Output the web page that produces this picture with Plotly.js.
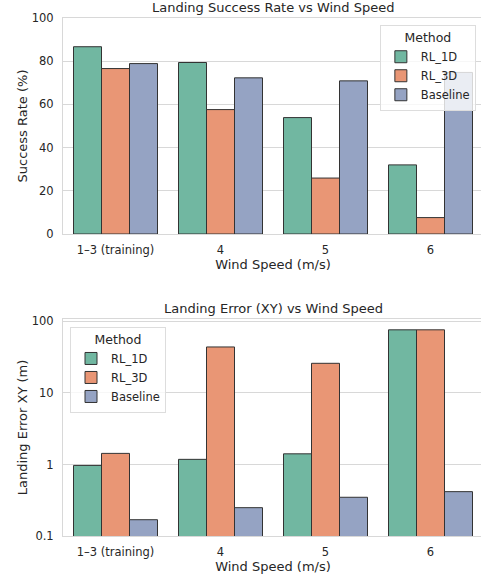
<!DOCTYPE html>
<html>
<head>
<meta charset="utf-8">
<script src="https://cdn.plot.ly/plotly-3.0.1.min.js"></script>
<style>
  html, body { margin: 0; padding: 0; overflow: hidden; background: #fff; }
  #chart { width: 483px; height: 579px; }
</style>
</head>
<body>
<div id="chart"></div>
<script>
// Wind-speed conditions (x categories)
const windSpeeds = ['1\u20133 (training)', '4', '5', '6'];

// Landing success rate (%) per method
const successRL1D = [86.7, 79.4, 53.9, 32.0];
const successRL3D = [76.6, 57.6, 25.9, 7.6];
const successBaseline = [78.9, 72.3, 70.9, 74.8];

// Landing error in the XY plane (m) per method
const errorRL1D = [0.97, 1.18, 1.41, 76.4];
const errorRL3D = [1.43, 44.0, 26.0, 76.4];
const errorBaseline = [0.169, 0.249, 0.348, 0.417];

const methods = ['RL_1D', 'RL_3D', 'Baseline'];
const methodColors = ['#71b7a1', '#e99675', '#95a3c3'];

// Log-axis tick labels
const errorTickVals = [0.1, 1, 10, 100];
const errorTickText = ['0.1', '1', '10', '100'];

const textColor = '#262626';
const gridColor = '#d8d8d8';
const fontFamily = 'DejaVu Sans, sans-serif';

function barTrace(name, values, idx, yaxis, legendName) {
  return {
    type: 'bar',
    name: name,
    x: windSpeeds,
    y: values,
    xaxis: yaxis === 'y' ? 'x' : 'x2',
    yaxis: yaxis,
    legend: legendName,
    marker: { color: methodColors[idx], line: { color: '#333333', width: 1 } },
    hoverinfo: 'x+y+name'
  };
}

const successSeries = [successRL1D, successRL3D, successBaseline];
const errorSeries = [errorRL1D, errorRL3D, errorBaseline];

const traces = [];
methods.forEach((m, i) => traces.push(barTrace(m, successSeries[i], i, 'y', 'legend')));
methods.forEach((m, i) => traces.push(barTrace(m, errorSeries[i], i, 'y2', 'legend2')));

const axisCommon = {
  showline: true, mirror: true, linecolor: gridColor, linewidth: 1,
  tickfont: { family: fontFamily, size: 11.5, color: textColor },
  ticks: '', zeroline: false
};

const titleFont = { family: fontFamily, size: 13, color: textColor };

const legendCommon = {
  bgcolor: 'rgba(255,255,255,0.8)',
  bordercolor: '#dddddd', borderwidth: 1,
  font: { family: fontFamily, size: 11.5, color: textColor },
  title: { text: 'Method', side: 'top center', font: { family: fontFamily, size: 12.5, color: textColor } },
  tracegroupgap: 0,
  itemwidth: 30
};

const layout = {
  width: 483, height: 579,
  margin: { l: 63, r: 0, t: 18, b: 43 },
  paper_bgcolor: '#ffffff', plot_bgcolor: '#ffffff',
  font: { family: fontFamily, color: textColor },
  barmode: 'group', bargap: 0.2, bargroupgap: 0,
  xaxis: Object.assign({}, axisCommon, {
    type: 'category', domain: [0, 1], anchor: 'y', showgrid: false,
    range: [-0.5, 3.5], ticklabelstandoff: 5,
    title: { text: 'Wind Speed (m/s)', standoff: 3, font: titleFont }
  }),
  yaxis: Object.assign({}, axisCommon, {
    domain: [0.583, 1], anchor: 'x', range: [0, 100],
    tickvals: [0, 20, 40, 60, 80, 100],
    showgrid: true, gridcolor: gridColor, gridwidth: 1, ticklabelstandoff: 6,
    title: { text: 'Success Rate (%)', standoff: 1, font: titleFont }
  }),
  xaxis2: Object.assign({}, axisCommon, {
    type: 'category', domain: [0, 1], anchor: 'y2', showgrid: false,
    range: [-0.5, 3.5], ticklabelstandoff: 5,
    title: { text: 'Wind Speed (m/s)', standoff: 3, font: titleFont }
  }),
  yaxis2: Object.assign({}, axisCommon, {
    domain: [0, 0.419], anchor: 'x2', type: 'log', range: [-1, 2.035],
    tickvals: errorTickVals, ticktext: errorTickText,
    showgrid: true, gridcolor: gridColor, gridwidth: 1, ticklabelstandoff: 6,
    title: { text: 'Landing Error XY (m)', standoff: 1, font: titleFont }
  }),
  legend: Object.assign({}, legendCommon, {
    x: 0.983, xanchor: 'right', y: 0.9865, yanchor: 'top'
  }),
  legend2: Object.assign({}, legendCommon, {
    x: 0.0167, xanchor: 'left', y: 0.404, yanchor: 'top'
  }),
  annotations: [
    { text: 'Landing Success Rate vs Wind Speed', xref: 'paper', yref: 'paper', x: 0.5, y: 1,
      xanchor: 'center', yanchor: 'bottom', yshift: 1, showarrow: false,
      font: { family: fontFamily, size: 13, color: textColor } },
    { text: 'Landing Error (XY) vs Wind Speed', xref: 'paper', yref: 'paper', x: 0.5, y: 0.419,
      xanchor: 'center', yanchor: 'bottom', yshift: 1, showarrow: false,
      font: { family: fontFamily, size: 13, color: textColor } }
  ]
};

Plotly.newPlot('chart', traces, layout, { displayModeBar: false, staticPlot: true });
</script>
</body>
</html>
